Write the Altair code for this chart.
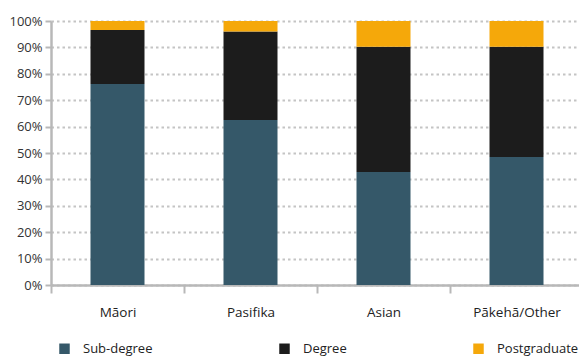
import altair as alt
import pandas as pd

# Share of graduates by qualification level, per ethnic group (%)
groups = ["Māori", "Pasifika", "Asian", "Pākehā/Other"]
levels = ["Sub-degree", "Degree", "Postgraduate"]
sub_degree = [76.1, 62.5, 42.8, 48.5]
degree = [20.5, 33.5, 47.4, 41.7]
postgraduate = [3.4, 4.0, 9.8, 9.8]
y_ticks = [0, 10, 20, 30, 40, 50, 60, 70, 80, 90, 100]
colours = ["#355869", "#1c1c1c", "#f5a80a"]

rows = []
for i, g in enumerate(groups):
    for k, (lvl, vals) in enumerate(zip(levels, [sub_degree, degree, postgraduate])):
        rows.append({"group": g, "level": lvl, "share": vals[i], "rank": k})
df = pd.DataFrame(rows)

FONT = "Open Sans"

chart = (
    alt.Chart(df)
    .mark_bar(size=54)
    .encode(
        x=alt.X(
            "group:N",
            sort=groups,
            title=None,
            scale=alt.Scale(range=[0, 532], paddingInner=0, paddingOuter=0),
            axis=alt.Axis(
                labelAngle=0,
                labelFont=FONT,
                labelFontSize=13.5,
                labelColor="#222222",
                labelPadding=12,
                tickBand="extent",
                tickSize=8,
                tickColor="#b8b8b8",
                tickWidth=2,
                domainColor="#b8b8b8",
                domainWidth=2.5,
                grid=False,
            ),
        ),
        y=alt.Y(
            "share:Q",
            stack="zero",
            title=None,
            scale=alt.Scale(domain=[0, 100], nice=False),
            axis=alt.Axis(
                values=y_ticks,
                labelExpr="datum.value + '%'",
                labelFont=FONT,
                labelFontSize=13,
                labelColor="#333333",
                labelPadding=3,
                tickSize=6,
                tickColor="#b8b8b8",
                tickWidth=2,
                domainColor="#b8b8b8",
                domainWidth=2.5,
                grid=True,
                gridColor="#c4c4c4",
                gridWidth=2,
                gridDash=[2.5, 3],
            ),
        ),
        color=alt.Color(
            "level:N",
            sort=levels,
            scale=alt.Scale(domain=levels, range=colours),
            legend=alt.Legend(
                title=None,
                orient="none",
                legendX=7,
                legendY=321,
                direction="horizontal",
                columns=3,
                gridAlign="each",
                columnPadding=125,
                symbolType="square",
                symbolSize=110,
                symbolStrokeWidth=0,
                symbolOpacity=1,
                labelOffset=12,
                labelFont=FONT,
                labelFontSize=13,
                labelColor="#222222",
                labelLimit=200,
            ),
        ),
        order=alt.Order("rank:Q", sort="ascending"),
    )
    .properties(
        width=528,
        height=264,
        padding={"left": 51, "top": 21, "right": 0, "bottom": 71},
        autosize=alt.AutoSizeParams(type="none"),
    )
    .configure_view(stroke=None)
    .configure_axis(domainCap="butt")
)

chart.save("out.html", embed_options={"renderer": "svg", "actions": False})
